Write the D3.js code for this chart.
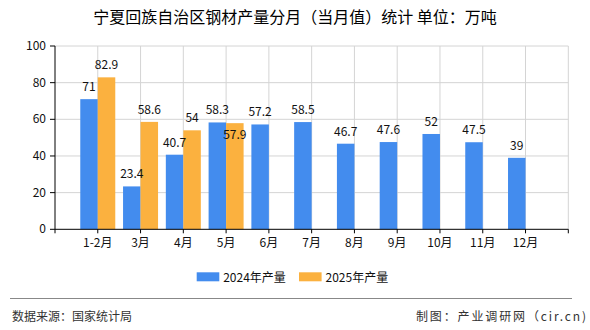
<!DOCTYPE html>
<html><head><meta charset="utf-8">
<script src="https://cdn.jsdelivr.net/npm/d3@7/dist/d3.min.js"></script>
<style>
html,body{margin:0;padding:0;background:#fff;}
svg{display:block;font-family:"Noto Sans CJK SC","Noto Sans",sans-serif;}
</style></head>
<body>
<svg id="c" width="590" height="330"></svg>
<script>
const categories = ["1-2月","3月","4月","5月","6月","7月","8月","9月","10月","11月","12月"];
const values2024 = [71,23.4,40.7,58.3,57.2,58.5,46.7,47.6,52,47.5,39];
const values2025 = [82.9,58.6,54,57.9,null,null,null,null,null,null,null];
const seriesNames = ["2024年产量","2025年产量"];
const yTicks = [0,20,40,60,80,100];
const title = "宁夏回族自治区钢材产量分月（当月值）统计 单位：万吨";
const sourceText = "数据来源：国家统计局";
const creditText = "制图：产业调研网（cir.cn)";

const colors = ["#438CEE","#FBB13F"];
const svg = d3.select("#c");
const L = 55, R = 568.3, T = 46, B = 229.3;

const x = d3.scalePoint().domain(categories).range([L, R]).padding(1);
const y = d3.scaleLinear().domain([0,100]).range([B, T]);
const bw = 17.5;

// title
svg.append("text").attr("x",295).attr("y",22.5).attr("text-anchor","middle")
  .attr("font-size",16).attr("fill","#000").attr("font-weight",400).text(title);

// grid
const g = svg.append("g");
g.selectAll(".hg").data(yTicks.filter(d=>d>0)).join("line")
  .attr("x1",L).attr("x2",R).attr("y1",d=>y(d)).attr("y2",d=>y(d))
  .attr("stroke","#d4d4d4").attr("stroke-width",1);
g.selectAll(".vg").data(categories).join("line")
  .attr("x1",d=>x(d)).attr("x2",d=>x(d)).attr("y1",T).attr("y2",B)
  .attr("stroke","#d4d4d4");
g.append("line").attr("x1",R).attr("x2",R).attr("y1",T).attr("y2",B).attr("stroke","#d4d4d4");

// bars
const bars = svg.append("g");
bars.selectAll(".b1").data(categories).join("rect")
  .attr("x",d=>x(d)-bw).attr("width",bw)
  .attr("y",(d,i)=>y(values2024[i])).attr("height",(d,i)=>B-y(values2024[i]))
  .attr("fill",colors[0]);
const c2 = categories.filter((d,i)=>values2025[i]!=null);
bars.selectAll(".b2").data(c2).join("rect")
  .attr("x",d=>x(d)).attr("width",bw)
  .attr("y",d=>y(values2025[categories.indexOf(d)])).attr("height",d=>B-y(values2025[categories.indexOf(d)]))
  .attr("fill",colors[1]);

// axes
const xa = svg.append("g").attr("transform",`translate(0,${B})`);
xa.append("line").attr("x1",L).attr("x2",R).attr("y1",0).attr("y2",0).attr("stroke","#000");
const tickXs = [L, ...categories.map(d=>x(d)), R];
xa.selectAll(".t").data(tickXs).join("line").attr("x1",d=>d).attr("x2",d=>d).attr("y1",0).attr("y2",4).attr("stroke","#000");
xa.selectAll(".l").data(categories).join("text").attr("x",d=>x(d)).attr("y",18)
  .attr("text-anchor","middle").attr("font-size",12).attr("fill","#111").text(d=>d);

const ya = svg.append("g");
ya.append("line").attr("x1",L).attr("x2",L).attr("y1",T).attr("y2",B).attr("stroke","#000");
ya.selectAll(".t").data(yTicks).join("line").attr("x1",L-5).attr("x2",L).attr("y1",d=>y(d)).attr("y2",d=>y(d)).attr("stroke","#000");
ya.selectAll(".l").data(yTicks).join("text").attr("x",L-9).attr("y",d=>y(d)+4)
  .attr("text-anchor","end").attr("font-size",12).attr("fill","#111").text(d=>d);

// value labels
const lab = svg.append("g").attr("font-size",12).attr("fill","#111").attr("text-anchor","middle");
categories.forEach((c,i)=>{
  const v1 = values2024[i], v2 = values2025[i];
  lab.append("text").attr("x",x(c)-bw/2).attr("y",y(v1)-8).text(v1);
  if(v2!=null){
    const clash = Math.abs(v1-v2) < 3;
    lab.append("text").attr("x",x(c)+bw/2).attr("y",clash ? y(v2)+16 : y(v2)-8).text(v2);
  }
});

// legend
const lg = svg.append("g");
const lx = [196.7, 299];
seriesNames.forEach((s,i)=>{
  lg.append("rect").attr("x",lx[i]).attr("y",272.3).attr("width",22.6).attr("height",9).attr("fill",colors[i]);
  lg.append("text").attr("x",lx[i]+26.5).attr("y",281.5).attr("font-size",12).attr("fill","#111").text(s);
});

// footer
svg.append("line").attr("x1",10).attr("x2",572).attr("y1",298.5).attr("y2",298.5).attr("stroke","#888").attr("stroke-width",1.2);
svg.append("text").attr("x",12).attr("y",321).attr("font-size",12).attr("fill","#333").text(sourceText);
svg.append("text").attr("x",416).attr("y",321).attr("font-size",12).attr("fill","#333")
  .attr("textLength",170).attr("lengthAdjust","spacing").text(creditText);
</script>
</body></html>
